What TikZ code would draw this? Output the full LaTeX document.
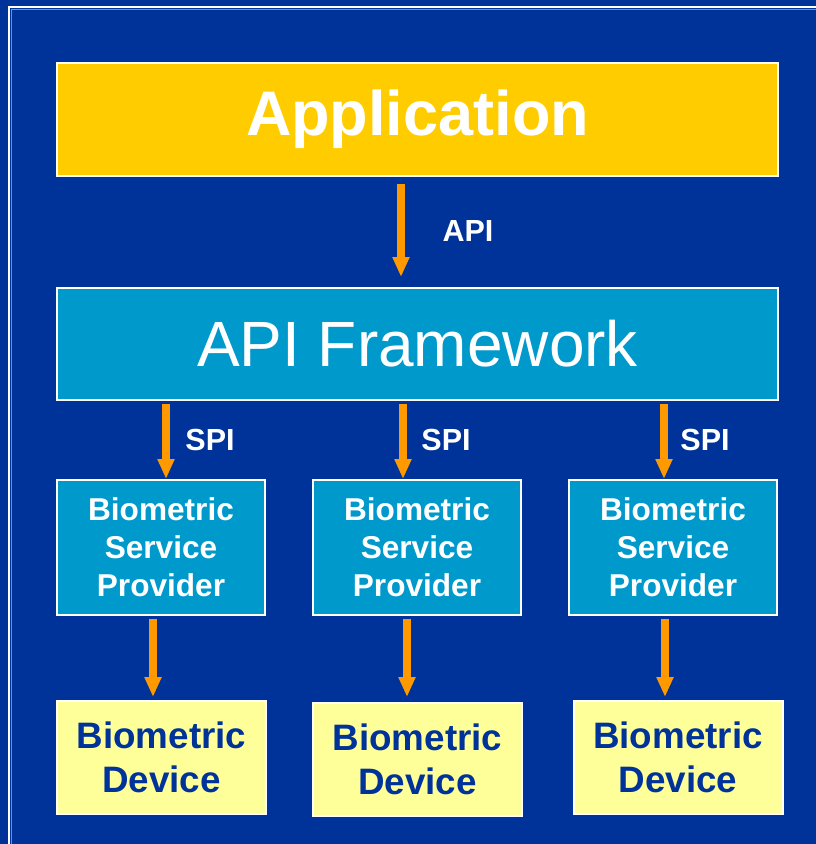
\documentclass[tikz,border=0pt]{standalone}
\usepackage{fontspec}
\setmainfont{Liberation Sans}
\usetikzlibrary{arrows.meta}
\definecolor{navy}{HTML}{003399}
\definecolor{appyellow}{HTML}{FFCC00}
\definecolor{fwblue}{HTML}{0099CC}
\definecolor{devyellow}{HTML}{FFFF99}
\definecolor{arrorange}{HTML}{FF9900}
\definecolor{rimblue}{HTML}{6F8FD0}
\tikzset{
  box/.style={draw=white, line width=2pt, inner sep=0pt, align=center},
  bsp/.style={box, fill=fwblue, text=white, minimum width=208pt, minimum height=135pt,
    font=\fontsize{31.6}{38}\selectfont\bfseries},
  dev/.style={box, fill=devyellow, text=navy, minimum width=209pt, minimum height=113pt,
    font=\fontsize{36.8}{44}\selectfont\bfseries},
  flow/.style={draw=arrorange, line width=7.5pt, -{Triangle[width=16pt,length=20pt]}},
  tag/.style={text=white, font=\fontsize{30.5}{36}\selectfont\bfseries}
}
\begin{document}
\begin{tikzpicture}[x=1pt,y=-1pt]
  % canvas
  \useasboundingbox (0,0) rectangle (815,844);
  \fill[navy] (-10,-10) rectangle (825,854);
  % slide frame
  \draw[white, line width=2pt] (9,854) -- (9,7) -- (825,7);
  \draw[rimblue, line width=1pt] (11.2,854) -- (11.2,9.2) -- (825,9.2);

  % layers
  \node[box, fill=appyellow, text=white, minimum width=721pt, minimum height=113pt,
        font=\fontsize{63}{70}\selectfont\bfseries] (app) at (417.5,119.5) {Application};
  \node[box, fill=fwblue, text=white, minimum width=721pt, minimum height=112pt,
        font=\fontsize{64}{72}\selectfont] (fw) at (417.5,344) {API Framework};

  \node[bsp] (bsp1) at (161,547.5) {Biometric\\Service\\Provider};
  \node[bsp] (bsp2) at (417,547.5) {Biometric\\Service\\Provider};
  \node[bsp] (bsp3) at (673,547.5) {Biometric\\Service\\Provider};

  \node[dev] (dev1) at (161.5,757.5) {Biometric\\Device};
  \node[dev] (dev2) at (417.5,759.5) {Biometric\\Device};
  \node[dev] (dev3) at (678,757.5) {Biometric\\Device};

  % interfaces
  \draw[flow, shorten <=7pt, shorten >=10pt] ([xshift=-16.5pt]app.south) -- ([xshift=-16.5pt]fw.north);
  \node[tag] (apitag) at (468,231) {API};

  \draw[flow, shorten <=3pt] (fw.south -| {166,0}) -- ([xshift=5pt]bsp1.north);
  \draw[flow, shorten <=3pt] (fw.south -| {403,0}) -- ([xshift=-14pt]bsp2.north);
  \draw[flow, shorten <=3pt] (fw.south -| {664,0}) -- ([xshift=-9pt]bsp3.north);
  \node[tag] (spi1) at (210,440) {SPI};
  \node[tag] (spi2) at (446,440) {SPI};
  \node[tag] (spi3) at (705,440) {SPI};

  \draw[flow, shorten <=3pt, shorten >=3pt] ([xshift=-8pt]bsp1.south) -- ([xshift=-8.5pt]dev1.north);
  \draw[flow, shorten <=3pt, shorten >=5pt] ([xshift=-10pt]bsp2.south) -- ([xshift=-10.5pt]dev2.north);
  \draw[flow, shorten <=3pt, shorten >=3pt] ([xshift=-8pt]bsp3.south) -- ([xshift=-13pt]dev3.north);
\end{tikzpicture}
\end{document}
